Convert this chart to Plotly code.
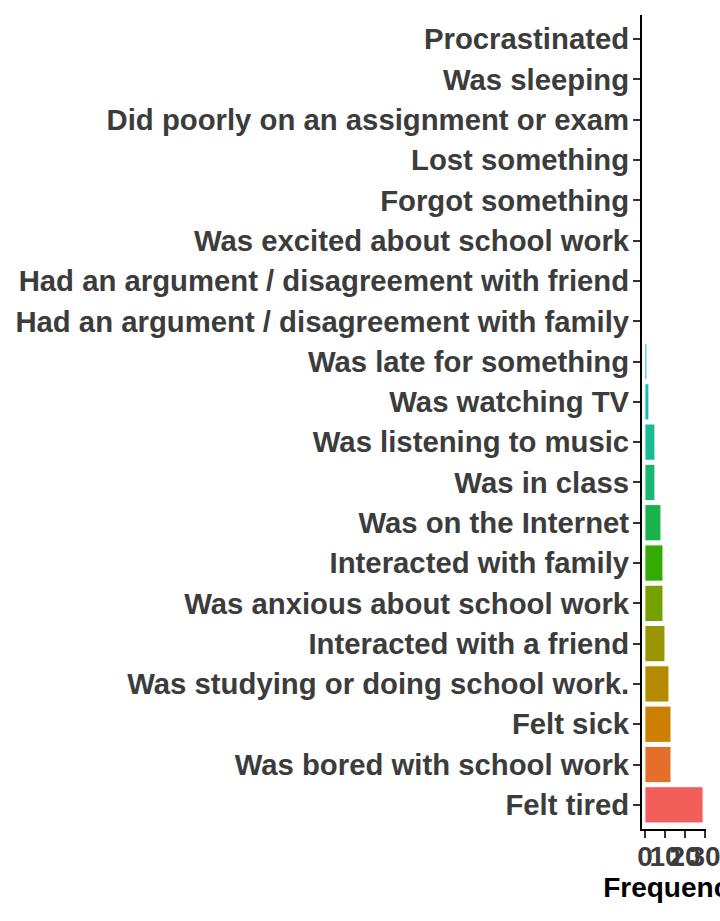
import plotly.graph_objects as go

# Categories from bottom to top (ggplot factor order)
categories = [
    "Felt tired",
    "Was bored with school work",
    "Felt sick",
    "Was studying or doing school work.",
    "Interacted with a friend",
    "Was anxious about school work",
    "Interacted with family",
    "Was on the Internet",
    "Was in class",
    "Was listening to music",
    "Was watching TV",
    "Was late for something",
    "Had an argument / disagreement with family",
    "Had an argument / disagreement with friend",
    "Was excited about school work",
    "Forgot something",
    "Lost something",
    "Did poorly on an assignment or exam",
    "Was sleeping",
    "Procrastinated",
]
frequency = [29, 13, 13, 12, 10, 9, 9, 8, 5, 5, 2, 1, 0, 0, 0, 0, 0, 0, 0, 0]
colors = [
    "#F35E5A", "#E56E2A", "#CD7F00", "#B68A00", "#979600", "#74A000",
    "#33AB00", "#1AB24B", "#1AB76F", "#1ABA93", "#1AB8B6", "#1AB2D8",
    "#2AA4F2", "#8E92FF", "#C07EFF", "#E06CF0", "#F364D8", "#F864BA",
    "#F86C92", "#F8766D",
]
x_ticks = [0, 10, 20, 30]

fig = go.Figure(
    go.Bar(
        x=frequency,
        y=categories,
        orientation="h",
        width=0.9,
        marker=dict(color=colors, line=dict(color="white", width=1)),
    )
)

font_family = "Liberation Sans, Arial, sans-serif"

fig.update_layout(
    width=720,
    height=921,
    margin=dict(l=642, r=14, t=15, b=92, autoexpand=False),
    plot_bgcolor="white",
    paper_bgcolor="white",
    showlegend=False,
    font=dict(family=font_family),
)
fig.update_xaxes(
    range=[-1.45, 30.45],
    tickvals=x_ticks,
    ticktext=[str(v) for v in x_ticks],
    tickangle=0,
    automargin=False,
    ticklabeloverflow="allow",
    ticklabelstandoff=-6,
    showgrid=False,
    zeroline=False,
    showline=True,
    linecolor="black",
    linewidth=2,
    ticks="outside",
    ticklen=7,
    tickwidth=2,
    tickcolor="#333333",
    tickfont=dict(size=28, color="#3C3C3C", family=font_family, weight="bold"),
    title=dict(text="Frequency", font=dict(size=28, color="black", family=font_family, weight="bold"), standoff=4),
)
fig.update_yaxes(
    type="category",
    categoryorder="array",
    categoryarray=categories,
    range=[-0.6, 19.6],
    automargin=False,
    showgrid=False,
    zeroline=False,
    showline=True,
    linecolor="black",
    linewidth=2,
    ticks="outside",
    ticklen=7,
    tickwidth=2,
    tickcolor="#333333",
    tickfont=dict(size=29.3, color="#3C3C3C", family=font_family, weight="bold"),
    ticklabelstandoff=-2,
)

fig.write_html("out.html")
